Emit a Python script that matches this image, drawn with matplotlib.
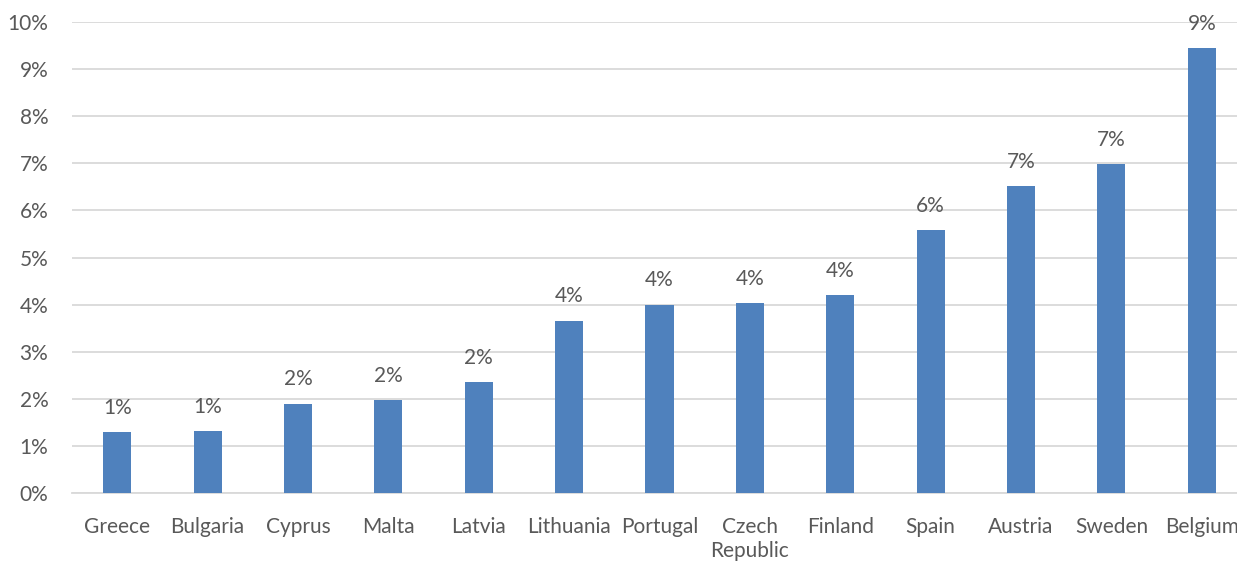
import matplotlib.pyplot as plt
from matplotlib.ticker import FuncFormatter

countries = ["Greece", "Bulgaria", "Cyprus", "Malta", "Latvia", "Lithuania", "Portugal",
             "Czech\nRepublic", "Finland", "Spain", "Austria", "Sweden", "Belgium"]
values = [1.30, 1.32, 1.90, 1.98, 2.36, 3.66, 4.00, 4.03, 4.20, 5.59, 6.51, 6.99, 9.45]

plt.rcParams['font.family'] = ['Lato', 'DejaVu Sans']
text_color = '#595959'

fig = plt.figure(figsize=(12.37, 5.62), dpi=100)
# axes extends slightly past the right edge, as in the original (Belgium is clipped)
ax = fig.add_axes([72 / 1237, 69 / 562, 1175 / 1237, 471 / 562])

x = range(len(countries))
ax.bar(x, values, width=0.31, color='#4F81BD', zorder=3)

for i, v in enumerate(values):
    ax.text(i, v + 0.3, f"{int(v + 0.5)}%", ha='center', va='bottom',
            fontsize=15, color=text_color)

ax.set_xlim(-0.5, len(countries) - 0.5)
ax.set_ylim(0, 10)
ax.set_yticks(range(0, 11))
ax.yaxis.set_major_formatter(FuncFormatter(lambda v, p: f"{v:.0f}%"))
ax.set_xticks(list(x))
ax.set_xticklabels(countries, fontsize=15, color=text_color, linespacing=1.3)
ax.tick_params(axis='y', labelsize=15, labelcolor=text_color, length=0, pad=17)
ax.tick_params(axis='x', length=0, pad=17)

ax.grid(axis='y', color='#D9D9D9', linewidth=1.3, zorder=0)
for side in ['top', 'right', 'left']:
    ax.spines[side].set_visible(False)
ax.spines['bottom'].set_color('#D9D9D9')
ax.spines['bottom'].set_linewidth(1.3)

fig.savefig("out.png", dpi=100)
